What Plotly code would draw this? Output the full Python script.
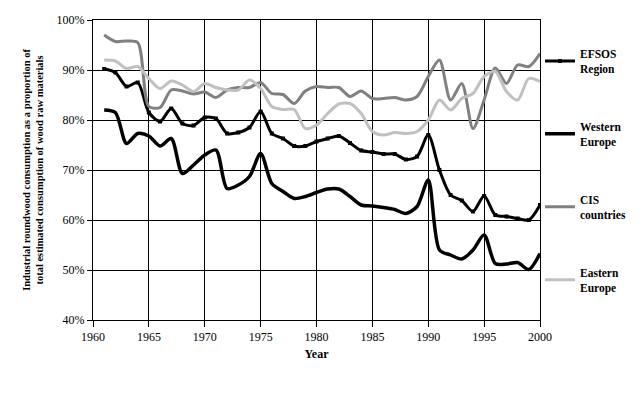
import plotly.graph_objects as go

years = list(range(1961, 2001))

efsos = [90.2, 89.5, 86.7, 87.5, 81.5, 79.7, 82.3, 79.3, 78.9, 80.5,
         80.3, 77.3, 77.5, 78.5, 81.7, 77.3, 76.3, 74.8, 74.8, 75.7,
         76.3, 76.8, 75.4, 73.9, 73.6, 73.2, 73.2, 72.1, 72.7, 77.0,
         70.0, 65.0, 63.9, 61.7, 64.8, 61.0, 60.7, 60.3, 60.0, 63.0]

western = [82.0, 81.5, 75.3, 77.3, 76.8, 74.8, 76.3, 69.3, 71.0, 73.0,
           74.0, 66.3, 67.0, 68.7, 73.3, 67.3, 65.7, 64.3, 64.7, 65.5,
           66.2, 66.2, 64.7, 63.0, 62.8, 62.5, 62.1, 61.3, 62.7, 68.0,
           54.0, 53.0, 52.2, 54.0, 57.0, 51.3, 51.2, 51.5, 50.1, 53.3]

cis = [97.0, 95.7, 95.8, 95.5, 82.7, 82.5, 86.0, 85.8, 85.2, 85.6,
       84.5, 86.0, 86.5, 86.5, 87.5, 85.3, 85.1, 83.3, 85.8, 86.7,
       86.5, 86.5, 84.7, 85.8, 84.3, 84.3, 84.5, 84.0, 84.7, 88.7,
       92.0, 84.0, 87.3, 78.3, 84.0, 90.4, 87.3, 91.0, 90.7, 93.3]

eastern = [92.0, 91.8, 90.3, 90.7, 88.3, 86.3, 87.8, 87.0, 85.7, 87.3,
           86.5, 86.0, 86.0, 88.0, 86.3, 82.7, 82.1, 82.1, 78.3, 79.0,
           81.3, 83.2, 83.3, 81.3, 77.7, 77.0, 77.5, 77.3, 77.7, 80.0,
           84.0, 82.0, 84.3, 85.3, 88.7, 89.7, 85.7, 84.0, 88.3, 87.7]

x_ticks = [1960, 1965, 1970, 1975, 1980, 1985, 1990, 1995, 2000]
y_ticks = [40, 50, 60, 70, 80, 90, 100]

series = [
    ("EFSOS<br>Region", efsos, "#000000", 3, True),
    ("Western<br>Europe", western, "#000000", 3.5, False),
    ("CIS<br>countries", cis, "#808080", 3, False),
    ("Eastern<br>Europe", eastern, "#C0C0C0", 3, False),
]

fig = go.Figure()
for i, (name, vals, color, width, markers) in enumerate(series):
    fig.add_trace(go.Scatter(
        x=years, y=vals, name=name, legendgroup=str(i),
        mode="lines+markers" if markers else "lines",
        line=dict(color=color, width=width, shape="spline", smoothing=0.8),
        marker=dict(symbol="square", size=4, color=color) if markers else None,
    ))

serif = "Liberation Serif, Times New Roman, serif"

fig.update_layout(
    width=634, height=386,
    margin=dict(l=85, r=102, t=12, b=74, autoexpand=False),
    paper_bgcolor="white", plot_bgcolor="white",
    font=dict(family=serif, size=12, color="black"),
    showlegend=True,
    legend=dict(
        x=1.0, xanchor="left", y=0.935, yanchor="top",
        font=dict(family=serif, size=11.5, color="black", weight="bold"),
        tracegroupgap=40, itemwidth=30, bgcolor="rgba(0,0,0,0)",
    ),
    xaxis=dict(
        range=[1960, 2000], tickvals=x_ticks, ticktext=[str(v) for v in x_ticks],
        showgrid=True, gridcolor="black", gridwidth=1,
        showline=True, linecolor="black", linewidth=1, mirror=True,
        ticks="outside", ticklen=6, tickcolor="black",
        zeroline=False, automargin=False,
        title=dict(text="<b>Year</b>", font=dict(family=serif, size=12), standoff=6),
        tickfont=dict(family=serif, size=12),
    ),
    yaxis=dict(
        range=[40, 100], tickvals=y_ticks, ticktext=[f"{v}%" for v in y_ticks],
        showgrid=True, gridcolor="black", gridwidth=1,
        showline=True, linecolor="black", linewidth=1, mirror=True,
        ticks="outside", ticklen=5, tickcolor="black",
        zeroline=False, automargin=False,
        title=dict(text="<b>Industrial roundwood consumption as a proportion of<br>total estimated consumption of wood raw materials</b>",
                   font=dict(family=serif, size=10.5), standoff=10),
        tickfont=dict(family=serif, size=12),
    ),
)

fig.write_html("out.html")
